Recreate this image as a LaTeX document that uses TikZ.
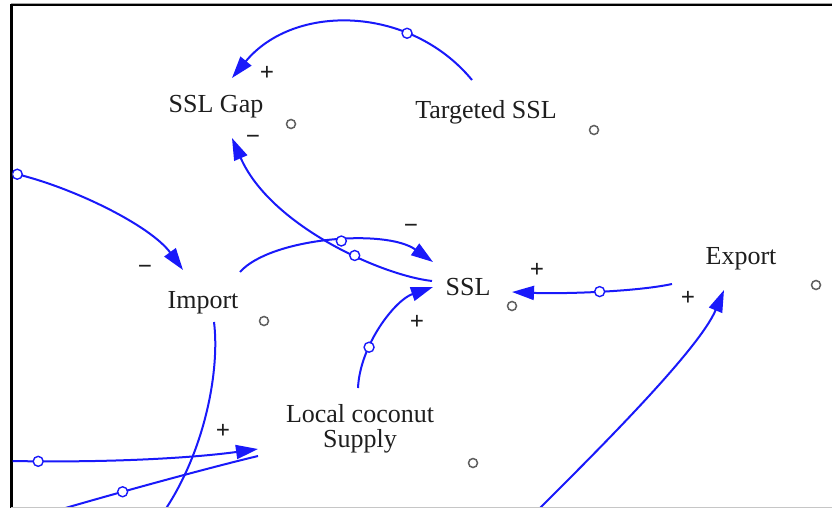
\documentclass[tikz,border=0pt]{standalone}
\usepackage{fontspec}
\setmainfont{Liberation Serif}
\usetikzlibrary{arrows.meta}
\definecolor{linkblue}{RGB}{25,25,250}
\definecolor{labelgray}{RGB}{30,30,30}
\definecolor{markgray}{RGB}{95,95,95}
\tikzset{
  var/.style={anchor=base, inner sep=0pt, text=labelgray, font=\fontsize{26}{26}\selectfont},
  link/.style={draw=linkblue, line width=2pt},
  linkarrow/.style={link, -{Triangle[length=22pt,width=14pt]}},
  valve/.style={circle, draw=linkblue, fill=white, line width=1.4pt, inner sep=0pt, minimum size=10pt},
  marker/.style={circle, draw=markgray, fill=white, line width=1.5pt, inner sep=0pt, minimum size=9pt},
  polarity/.style={inner sep=0pt, text=labelgray, font=\fontsize{25}{25}\selectfont\bfseries}
}
\begin{document}
\begin{tikzpicture}[x=1pt, y=-1pt]
\useasboundingbox (0,0) rectangle (832,508);
\fill[white] (0,0) rectangle (832,508);

% frame
\draw[gray!70, line width=1.2pt] (11,3.2) -- (832,3.2);
\draw[black, line width=2pt] (11,5) -- (832,5);
\draw[black, line width=2.4pt] (11.5,4) -- (11.5,508);
\draw[gray!45, line width=1pt] (11,507) -- (832,507);

% variables
\node[var] (gap) at (216,113) {SSL Gap};
\node[var] (tssl) at (486,118) {Targeted SSL};
\node[var] (imp) at (203,308) {Import};
\node[var] (ssl) at (468,295) {SSL};
\node[var] (exp) at (741,264) {Export};
\node[var, anchor=center, align=center, font=\fontsize{26}{25}\selectfont] (loc) at (360,429) {Local coconut\\Supply};

% small markers beside the variables
\node[marker] (mgap) at (291,124) {};
\node[marker] (mtssl) at (594,130) {};
\node[marker] (mimp) at (264,321) {};
\node[marker] (mssl) at (512,306) {};
\node[marker] (mexp) at (816,285) {};
\node[marker] (mloc) at (473,463) {};

% loose ends of links running off the frame
\coordinate (srcA) at (12,173);
\coordinate (srcB) at (11,461);
\coordinate (srcC) at (62,509);
\coordinate (sinkD) at (165,510);
\coordinate (srcE) at (538,510);

\begin{scope}
\clip (12.7,6) rectangle (832,506.5);

% Targeted SSL -> SSL Gap
\draw[linkarrow] ([shift={(-14,-38)}]tssl.base) .. controls +(-62,-75) and +(62,-75) .. node[valve, pos=0.29] (v1) {} ([shift={(16,-35)}]gap.base);
% SSL -> SSL Gap
\draw[linkarrow] ([shift={(-36,-14)}]ssl.base) .. controls +(-52,-6) and +(38,87) .. node[valve, pos=0.38] (v2) {} ([shift={(16,25)}]gap.base);
% Import -> SSL
\draw[linkarrow] ([shift={(37,-36)}]imp.base) .. controls +(30,-34) and +(-48,-34) .. node[valve, pos=0.55] (v3) {} ([shift={(-35,-33)}]ssl.base);
% Local coconut Supply -> SSL
\draw[linkarrow] ([shift={(-2,-41)}]loc.center) .. controls +(2,-43) and +(-38,13) .. node[valve, pos=0.32] (v4) {} ([shift={(-35,-8)}]ssl.base);
% Export -> SSL
\draw[linkarrow] ([shift={(-69,20)}]exp.base) .. controls +(-37,8) and +(48,2) .. node[valve, pos=0.48] (v5) {} ([shift={(44,-3)}]ssl.base);
% incoming link -> Export
\draw[linkarrow] (srcE) .. controls +(55,-55) and +(-25,60) .. ([shift={(-17,26)}]exp.base);
% incoming link -> Import
\draw[linkarrow] (srcA) .. controls +(58,13) and +(-33,-45) .. node[valve, pos=0.03] (v7) {} ([shift={(-20,-38)}]imp.base);
% incoming links -> Local coconut Supply
\draw[linkarrow] (srcB) .. controls +(109,2) and +(-58,8) .. node[valve, pos=0.085] (v8) {} ([shift={(-102,20)}]loc.center);
\draw[link] (srcC) .. controls +(48,-14) and +(-58,14) .. node[valve, pos=0.34] (v9) {} ([shift={(-102,27)}]loc.center);
% Import -> outgoing link
\draw[link] ([shift={(11,14)}]imp.base) .. controls +(6,48) and +(40,-60) .. (sinkD);
\end{scope}

% polarities
\node[polarity] (p1) at (267,73) {+};
\node[polarity] (p2) at (253,140) {−};
\node[polarity] (p3) at (145,270) {−};
\node[polarity] (p4) at (411,229) {−};
\node[polarity] (p5) at (417,322) {+};
\node[polarity] (p6) at (537,270) {+};
\node[polarity] (p7) at (688,298) {+};
\node[polarity] (p8) at (223,431) {+};
\end{tikzpicture}
\end{document}
